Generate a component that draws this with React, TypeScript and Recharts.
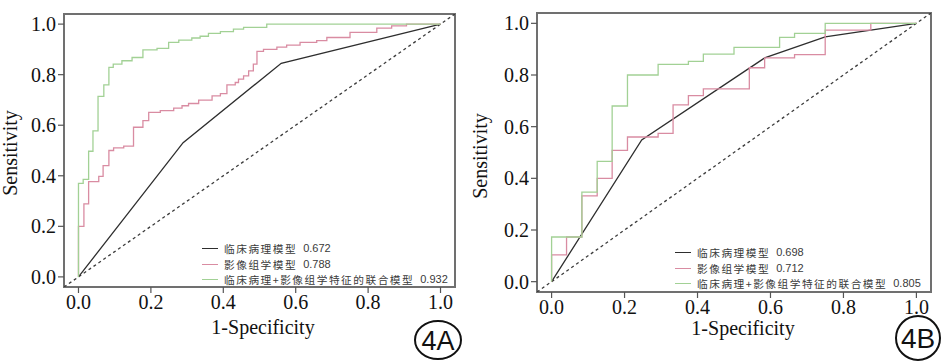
import { LineChart, Line, XAxis, YAxis, ReferenceArea, Legend } from "recharts";

// shared axis setup
const xTicks = [0, 0.2, 0.4, 0.6, 0.8, 1.0];
const yTicks = [0, 0.2, 0.4, 0.6, 0.8, 1.0];
const diagFpr = [-0.04, 1.04];
const diagTpr = [-0.04, 1.04];

const modelNames = ["临床病理模型", "影像组学模型", "临床病理+影像组学特征的联合模型"];
const modelColors = ["#2e2e2e", "#d98ca2", "#a2d195"];
const aucA = ["0.672", "0.788", "0.932"];
const aucB = ["0.698", "0.712", "0.805"];

// 4A
const aClinFpr = [0, 0.289, 0.56, 1.0];
const aClinTpr = [0, 0.531, 0.845, 1.0];
const aRadFpr = [0, 0, 0.015, 0.028, 0.056, 0.068, 0.084, 0.097, 0.125, 0.152, 0.178, 0.194, 0.226, 0.263, 0.286, 0.304, 0.332, 0.369, 0.392, 0.41, 0.433, 0.442, 0.456, 0.47, 0.483, 0.493, 0.511, 0.548, 0.575, 0.612, 0.658, 0.686, 0.75, 0.824, 0.865, 0.906, 1.0];
const aRadTpr = [0, 0.2, 0.289, 0.377, 0.398, 0.44, 0.5, 0.51, 0.517, 0.592, 0.618, 0.651, 0.658, 0.668, 0.677, 0.686, 0.699, 0.716, 0.725, 0.76, 0.769, 0.782, 0.795, 0.815, 0.842, 0.892, 0.9, 0.909, 0.917, 0.928, 0.935, 0.947, 0.967, 0.984, 0.993, 1.0, 1.0];
const aCombFpr = [0, 0, 0.013, 0.028, 0.04, 0.054, 0.07, 0.084, 0.096, 0.12, 0.148, 0.178, 0.217, 0.249, 0.277, 0.313, 0.336, 0.359, 0.392, 0.428, 0.456, 0.52, 1.0];
const aCombTpr = [0, 0.37, 0.386, 0.497, 0.578, 0.714, 0.76, 0.829, 0.842, 0.855, 0.868, 0.898, 0.904, 0.928, 0.937, 0.945, 0.952, 0.963, 0.97, 0.98, 0.987, 1.0, 1.0];

// 4B
const bClinFpr = [0, 0.247, 0.584, 0.75, 1.0];
const bClinTpr = [0, 0.549, 0.866, 0.948, 1.0];
const bRadFpr = [0, 0, 0.041, 0.083, 0.125, 0.166, 0.208, 0.292, 0.333, 0.375, 0.416, 0.542, 0.584, 0.666, 0.75, 0.875, 1.0];
const bRadTpr = [0, 0.104, 0.173, 0.332, 0.4, 0.508, 0.56, 0.574, 0.684, 0.72, 0.746, 0.828, 0.866, 0.879, 0.974, 1.0, 1.0];
const bCombFpr = [0, 0, 0.083, 0.125, 0.166, 0.208, 0.292, 0.375, 0.416, 0.5, 0.625, 0.666, 0.75, 1.0];
const bCombTpr = [0, 0.173, 0.347, 0.466, 0.68, 0.8, 0.841, 0.853, 0.881, 0.907, 0.946, 0.961, 1.0, 1.0];

const zip = (xs: number[], ys: number[]) => xs.map((x, i) => ({ x, y: ys[i] }));

const SERIF = "'Liberation Serif', 'Times New Roman', serif";
const tickStyle = { fontSize: 20, fontFamily: SERIF, fill: "#111" };

interface PanelProps {
  clin: { x: number; y: number }[];
  rad: { x: number; y: number }[];
  comb: { x: number; y: number }[];
  auc: string[];
  width: number;
  margin: { top: number; right: number; left: number; bottom: number };
  yAxisWidth: number;
  xAxisHeight: number;
  xLabel: { x: number; y: number };
  yLabel: { x: number; y: number };
  legendPos: { left: number; top: number };
}

function LegendBox({ auc }: { auc: string[] }) {
  return (
    <div style={{ fontFamily: "'Noto Sans CJK SC', sans-serif", color: "#3a3a3a", lineHeight: "15.5px" }}>
      {modelNames.map((name, i) => (
        <div key={name} style={{ display: "flex", alignItems: "center", height: 15.5, whiteSpace: "nowrap" }}>
          <span style={{ display: "inline-block", width: 16, borderTop: `1.5px solid ${modelColors[i]}`, marginRight: 6 }} />
          <span style={{ fontSize: 10.7, letterSpacing: 1.5 }}>{name}</span>
          <span style={{ fontSize: 11, marginLeft: 6, fontFamily: "'Liberation Sans', Arial, sans-serif" }}>{auc[i]}</span>
        </div>
      ))}
    </div>
  );
}

function RocPanel(p: PanelProps) {
  return (
    <LineChart width={p.width} height={363} margin={p.margin}>
      <XAxis
        type="number"
        dataKey="x"
        domain={[-0.04, 1.04]}
        ticks={xTicks}
        allowDataOverflow
        tickFormatter={(v) => Number(v).toFixed(1)}
        tick={tickStyle}
        axisLine={false}
        tickLine={{ stroke: "#555", strokeWidth: 1.2 }}
        tickSize={6}
        height={p.xAxisHeight}
        label={() => (
          <text x={p.xLabel.x} y={p.xLabel.y} textAnchor="middle" fontSize={20} fontFamily={SERIF} fill="#111">
            1-Specificity
          </text>
        )}
      />
      <YAxis
        type="number"
        dataKey="y"
        domain={[-0.04, 1.04]}
        ticks={yTicks}
        allowDataOverflow
        tickFormatter={(v) => Number(v).toFixed(1)}
        tick={tickStyle}
        axisLine={false}
        tickLine={{ stroke: "#555", strokeWidth: 1.2 }}
        tickSize={6}
        width={p.yAxisWidth}
        label={() => (
          <text
            x={p.yLabel.x}
            y={p.yLabel.y}
            textAnchor="middle"
            fontSize={20}
            fontFamily={SERIF}
            fill="#111"
            transform={`rotate(-90, ${p.yLabel.x}, ${p.yLabel.y})`}
          >
            Sensitivity
          </text>
        )}
      />
      <ReferenceArea x1={-0.04} x2={1.04} y1={-0.04} y2={1.04} fill="none" stroke="#707070" strokeWidth={2} />
      <Line data={zip(diagFpr, diagTpr)} dataKey="y" type="linear" stroke="#3c3c3c" strokeWidth={1.3} strokeDasharray="3 3" dot={false} isAnimationActive={false} />
      <Line data={p.clin} dataKey="y" type="linear" stroke={modelColors[0]} strokeWidth={1.3} dot={false} isAnimationActive={false} />
      <Line data={p.rad} dataKey="y" type="stepAfter" stroke={modelColors[1]} strokeWidth={1.3} dot={false} isAnimationActive={false} />
      <Line data={p.comb} dataKey="y" type="stepAfter" stroke={modelColors[2]} strokeWidth={1.3} dot={false} isAnimationActive={false} />
      <Legend
        layout="horizontal"
        verticalAlign="middle"
        align="center"
        content={() => <LegendBox auc={p.auc} />}
        wrapperStyle={{ left: p.legendPos.left, top: p.legendPos.top, width: "auto" }}
      />
    </LineChart>
  );
}

export default function App() {
  return (
    <div style={{ position: "absolute", left: 0, top: 0, width: 945, height: 363, background: "#fff", overflow: "hidden" }}>
      <div style={{ position: "absolute", left: 0, top: 0 }}>
        <RocPanel
          clin={zip(aClinFpr, aClinTpr)}
          rad={zip(aRadFpr, aRadTpr)}
          comb={zip(aCombFpr, aCombTpr)}
          auc={aucA}
          width={470}
          margin={{ top: 14, right: 15, left: 0, bottom: 0 }}
          yAxisWidth={64}
          xAxisHeight={76}
          xLabel={{ x: 263, y: 334 }}
          yLabel={{ x: 17, y: 153 }}
          legendPos={{ left: 202, top: 241 }}
        />
      </div>
      <div style={{ position: "absolute", left: 465, top: 0 }}>
        <RocPanel
          clin={zip(bClinFpr, bClinTpr)}
          rad={zip(bRadFpr, bRadTpr)}
          comb={zip(bCombFpr, bCombTpr)}
          auc={aucB}
          width={480}
          margin={{ top: 13, right: 14, left: 0, bottom: 0 }}
          yAxisWidth={72}
          xAxisHeight={71}
          xLabel={{ x: 278, y: 335 }}
          yLabel={{ x: 22, y: 156 }}
          legendPos={{ left: 210, top: 245 }}
        />
      </div>
      <svg width={945} height={363} style={{ position: "absolute", left: 0, top: 0, pointerEvents: "none" }}>
        <ellipse cx={438} cy={340} rx={23} ry={19} fill="none" stroke="#111" strokeWidth={2} />
        <text x={438} y={350} textAnchor="middle" fontSize={27} fontFamily="'Liberation Sans', Arial, sans-serif" fill="#111">4A</text>
        <ellipse cx={918} cy={338} rx={22} ry={22} fill="none" stroke="#111" strokeWidth={2} />
        <text x={918} y={348} textAnchor="middle" fontSize={28} fontFamily="'Liberation Sans', Arial, sans-serif" fill="#111">4B</text>
      </svg>
    </div>
  );
}
